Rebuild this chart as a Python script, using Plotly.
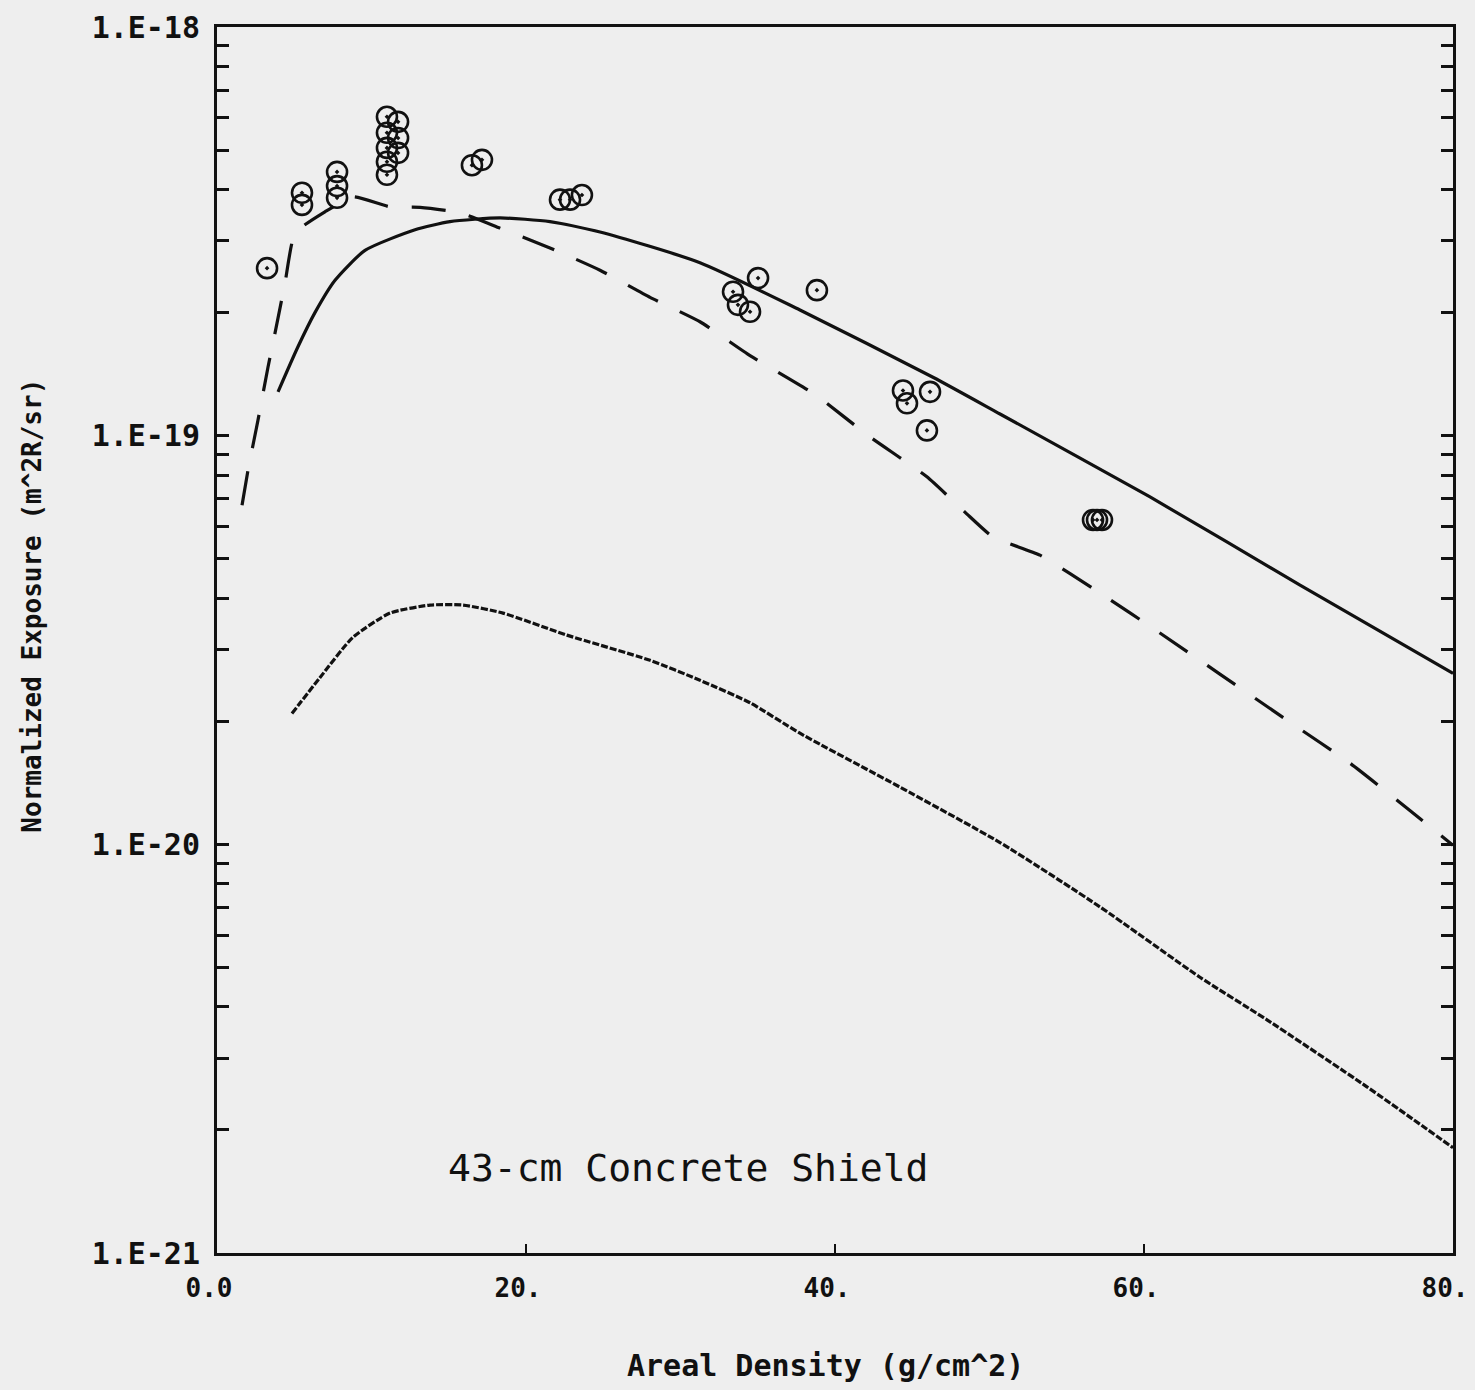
import plotly.graph_objects as go

# ---------------- data ----------------
solid_x = [3.95, 5.24, 6.34, 7.64, 9.58, 12.82, 15.08, 18.32, 21.55, 24.79, 31.26, 37.73,
           46.34, 50.68, 60.39, 70.10, 80.0]
solid_y = [1.28e-19, 1.65e-19, 2.00e-19, 2.40e-19, 2.84e-19, 3.19e-19, 3.34e-19, 3.41e-19,
           3.34e-19, 3.15e-19, 2.65e-19, 2.03e-19, 1.39e-19, 1.13e-19, 7.08e-20, 4.31e-20, 2.62e-20]

dash_x = [1.62, 2.01, 2.65, 3.30, 3.75, 4.40, 5.05, 6.99, 8.80, 11.20, 13.14, 15.73, 18.32,
          21.55, 24.79, 28.03, 31.26, 34.50, 38.71, 42.26, 45.95, 48.41, 50.23, 53.27, 57.15,
          61.03, 64.91, 69.45, 73.33, 77.21, 80.0]
dash_y = [6.76e-20, 8.24e-20, 1.09e-19, 1.47e-19, 1.78e-19, 2.36e-19, 3.13e-19, 3.53e-19,
          3.84e-19, 3.63e-19, 3.62e-19, 3.51e-19, 3.22e-19, 2.88e-19, 2.54e-19, 2.18e-19,
          1.90e-19, 1.57e-19, 1.26e-19, 9.93e-20, 7.93e-20, 6.50e-20, 5.65e-20, 5.10e-20,
          4.12e-20, 3.29e-20, 2.61e-20, 1.99e-20, 1.58e-20, 1.21e-20, 9.95e-21]

low_x = [4.85, 6.67, 8.80, 11.20, 13.79, 15.92, 18.51, 22.65, 28.03, 31.26, 34.50, 37.73,
         44.21, 50.68, 57.15, 63.62, 67.96, 74.43, 80.0]
low_y = [2.09e-20, 2.56e-20, 3.21e-20, 3.68e-20, 3.85e-20, 3.85e-20, 3.68e-20, 3.25e-20,
         2.82e-20, 2.52e-20, 2.22e-20, 1.87e-20, 1.38e-20, 1.01e-20, 7.03e-21, 4.73e-21,
         3.72e-21, 2.55e-21, 1.81e-21]

meas_x = [3.24, 5.50, 5.50, 7.77, 7.77, 7.77, 11.00, 11.00, 11.00, 11.00, 11.00, 11.72, 11.72,
          11.72, 16.50, 17.15, 22.20, 22.85, 23.62, 33.40, 33.72, 34.50, 35.02, 38.83, 44.40,
          44.66, 46.15, 45.95, 56.70, 56.96, 57.28]
meas_y = [2.57e-19, 3.93e-19, 3.67e-19, 4.42e-19, 4.08e-19, 3.82e-19, 6.03e-19, 5.51e-19,
          5.06e-19, 4.68e-19, 4.35e-19, 5.86e-19, 5.35e-19, 4.92e-19, 4.59e-19, 4.73e-19,
          3.78e-19, 3.78e-19, 3.88e-19, 2.25e-19, 2.09e-19, 2.01e-19, 2.43e-19, 2.27e-19,
          1.29e-19, 1.20e-19, 1.28e-19, 1.03e-19, 6.22e-20, 6.22e-20, 6.22e-20]

x_tick_vals = [0, 20, 40, 60, 80]
x_tick_text = ["0.0", "20.", "40.", "60.", "80."]
y_decades = [-21, -20, -19, -18]
y_decade_text = ["1.E-21", "1.E-20", "1.E-19", "1.E-18"]

# ---------------- figure ----------------
FONT = "DejaVu Sans Mono"
INK = "#111111"
BG = "#eeeeee"

y_tick_vals, y_tick_text = [], []
for d, lab in zip(y_decades, y_decade_text):
    if d == -18:
        y_tick_vals.append(10.0 ** d)
        y_tick_text.append(lab)
        continue
    for k in range(1, 10):
        y_tick_vals.append(k * 10.0 ** d)
        y_tick_text.append(lab if k == 1 else "")

fig = go.Figure()
fig.add_trace(go.Scatter(x=solid_x, y=solid_y, mode="lines",
                         line=dict(color=INK, width=3.2, shape="spline", smoothing=0.6),
                         showlegend=False, hoverinfo="skip"))
fig.add_trace(go.Scatter(x=dash_x, y=dash_y, mode="lines",
                         line=dict(color=INK, width=3.2, dash="34px,24px", shape="spline", smoothing=0.5),
                         showlegend=False, hoverinfo="skip"))
fig.add_trace(go.Scatter(x=low_x, y=low_y, mode="lines",
                         line=dict(color=INK, width=3.2, dash="7px,2px", shape="spline", smoothing=0.6),
                         showlegend=False, hoverinfo="skip"))
fig.add_trace(go.Scatter(x=meas_x, y=meas_y, mode="markers",
                         marker=dict(symbol="circle-open-dot", size=20, color=INK,
                                     line=dict(color=INK, width=2.6)),
                         showlegend=False, hoverinfo="skip"))

fig.update_xaxes(range=[0, 80], tickvals=x_tick_vals, ticktext=x_tick_text,
                 ticks="inside", ticklen=9, tickwidth=2, tickcolor=INK,
                 showline=True, linecolor=INK, linewidth=3, mirror=True,
                 showgrid=False, zeroline=False, ticklabeloverflow="allow", automargin=False,
                 ticklabelshift=-8,
                 tickfont=dict(family=FONT, size=26, color=INK, weight="bold"), ticklabelstandoff=10)
fig.update_yaxes(type="log", range=[-21, -18], tickvals=y_tick_vals, ticktext=y_tick_text,
                 ticks="inside", ticklen=12, tickwidth=3, tickcolor=INK,
                 showline=True, linecolor=INK, linewidth=3, mirror="ticks",
                 showgrid=False, zeroline=False, ticklabeloverflow="allow", automargin=False,
                 tickfont=dict(family=FONT, size=30, color=INK, weight="bold"), ticklabelstandoff=8)

fig.add_annotation(text="Normalized Exposure (m^2R/sr)", xref="paper", yref="paper",
                   x=-0.1497, y=0.528, xanchor="center", yanchor="middle",
                   textangle=-90, showarrow=False,
                   font=dict(family=FONT, size=26, color=INK, weight="bold"))
fig.add_annotation(text="Areal Density (g/cm^2)", xref="paper", yref="paper",
                   x=0.4927, y=-0.0914, xanchor="center", yanchor="middle", showarrow=False,
                   font=dict(family=FONT, size=30, color=INK, weight="bold"))
fig.add_annotation(text="43-cm Concrete Shield", xref="paper", yref="paper",
                   x=0.381, y=0.0693, xanchor="center", yanchor="middle", showarrow=False,
                   font=dict(family=FONT, size=38, color=INK))

fig.update_layout(width=1475, height=1390, margin=dict(l=217, r=22, t=27, b=137),
                  paper_bgcolor=BG, plot_bgcolor=BG)

fig.write_html("out.html")
